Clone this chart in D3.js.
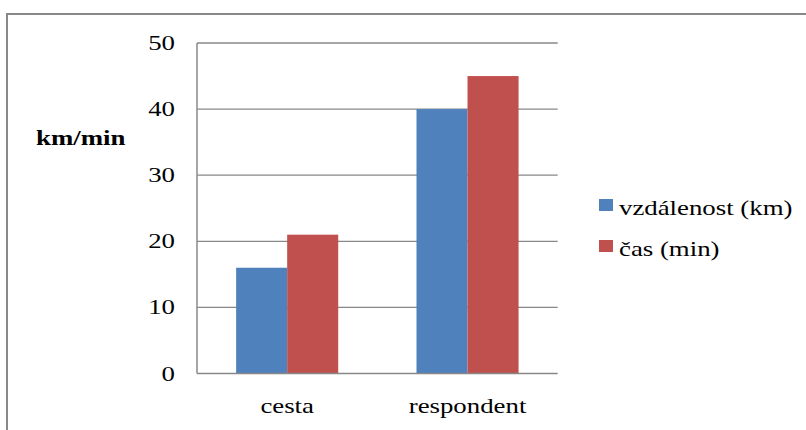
<!DOCTYPE html>
<html>
<head>
<meta charset="utf-8">
<script src="https://cdn.jsdelivr.net/npm/d3@7"></script>
<style>
  html, body { margin: 0; padding: 0; background: #fff; }
  svg { display: block; }
</style>
</head>
<body>
<svg id="chart" width="806" height="430"></svg>
<script>
// Chart data
const categories = ["cesta", "respondent"];
const seriesNames = ["vzdálenost (km)", "čas (min)"];
const distanceKm = [16, 40];
const timeMin = [21, 45];
const yTicks = [0, 10, 20, 30, 40, 50];
const yAxisTitle = "km/min";

const seriesValues = [distanceKm, timeMin];
const colors = ["#4F81BD", "#C0504D"];

const svg = d3.select("#chart");
const TEXT_STRETCH = 1.22;   // wide letterforms
const FONT = 22;
const FAMILY = "'Liberation Serif', 'Times New Roman', Times, serif";

// Placed text with horizontal stretch
function label(x, y, str, anchor, bold) {
  return svg.append("text")
    .attr("transform", `translate(${x},${y}) scale(${TEXT_STRETCH},1)`)
    .attr("text-anchor", anchor || "start")
    .attr("font-family", FAMILY)
    .style("font-family", FAMILY)
    .attr("font-size", FONT)
    .attr("font-weight", bold ? "bold" : "normal")
    .attr("fill", "#000")
    .text(str);
}

// Outer frame (open at right/bottom edge of the view)
svg.append("path")
  .attr("d", "M7,431 L7,14 L807,14")
  .attr("fill", "none")
  .attr("stroke", "#888")
  .attr("stroke-width", 2);

const plot = { left: 197, right: 557.7, top: 43, bottom: 373.5 };

const y = d3.scaleLinear().domain([0, 50]).range([plot.bottom, plot.top]);
const x0 = d3.scaleBand().domain(categories)
  .range([plot.left, plot.right]).paddingInner(0.434).paddingOuter(0.217);
const x1 = d3.scaleBand().domain(d3.range(seriesNames.length))
  .range([0, x0.bandwidth()]).padding(0);

// Horizontal gridlines
svg.append("g").selectAll("line").data(yTicks.filter(t => t > 0)).join("line")
  .attr("x1", plot.left).attr("x2", plot.right)
  .attr("y1", d => y(d)).attr("y2", d => y(d))
  .attr("stroke", "#888").attr("stroke-width", 1.3);

// Bars
const groups = svg.append("g").selectAll("g").data(categories).join("g")
  .attr("transform", d => `translate(${x0(d)},0)`);
groups.selectAll("rect")
  .data((c, i) => seriesValues.map((vals, s) => ({ s, v: vals[i] })))
  .join("rect")
  .attr("x", d => x1(d.s))
  .attr("width", x1.bandwidth())
  .attr("y", d => y(d.v))
  .attr("height", d => y(0) - y(d.v))
  .attr("fill", d => colors[d.s]);

// Axis lines
svg.append("line")
  .attr("x1", plot.left).attr("x2", plot.left)
  .attr("y1", plot.top).attr("y2", plot.bottom)
  .attr("stroke", "#888").attr("stroke-width", 1.5);
svg.append("line")
  .attr("x1", plot.left).attr("x2", plot.right)
  .attr("y1", plot.bottom).attr("y2", plot.bottom)
  .attr("stroke", "#888").attr("stroke-width", 1.5);

// Y tick labels
yTicks.forEach(t => label(175, y(t) + 7, String(t), "end"));

// Category labels
categories.forEach(c => label(x0(c) + x0.bandwidth() / 2, 413, c, "middle"));

// Axis title
label(36, 145, yAxisTitle, "start", true);

// Legend
const legendRows = [206, 247];
seriesNames.forEach((name, i) => {
  svg.append("rect")
    .attr("x", 599).attr("y", legendRows[i] - 7)
    .attr("width", 14).attr("height", 12)
    .attr("fill", colors[i]);
  label(619, legendRows[i] + 9, name, "start");
});
</script>
</body>
</html>
